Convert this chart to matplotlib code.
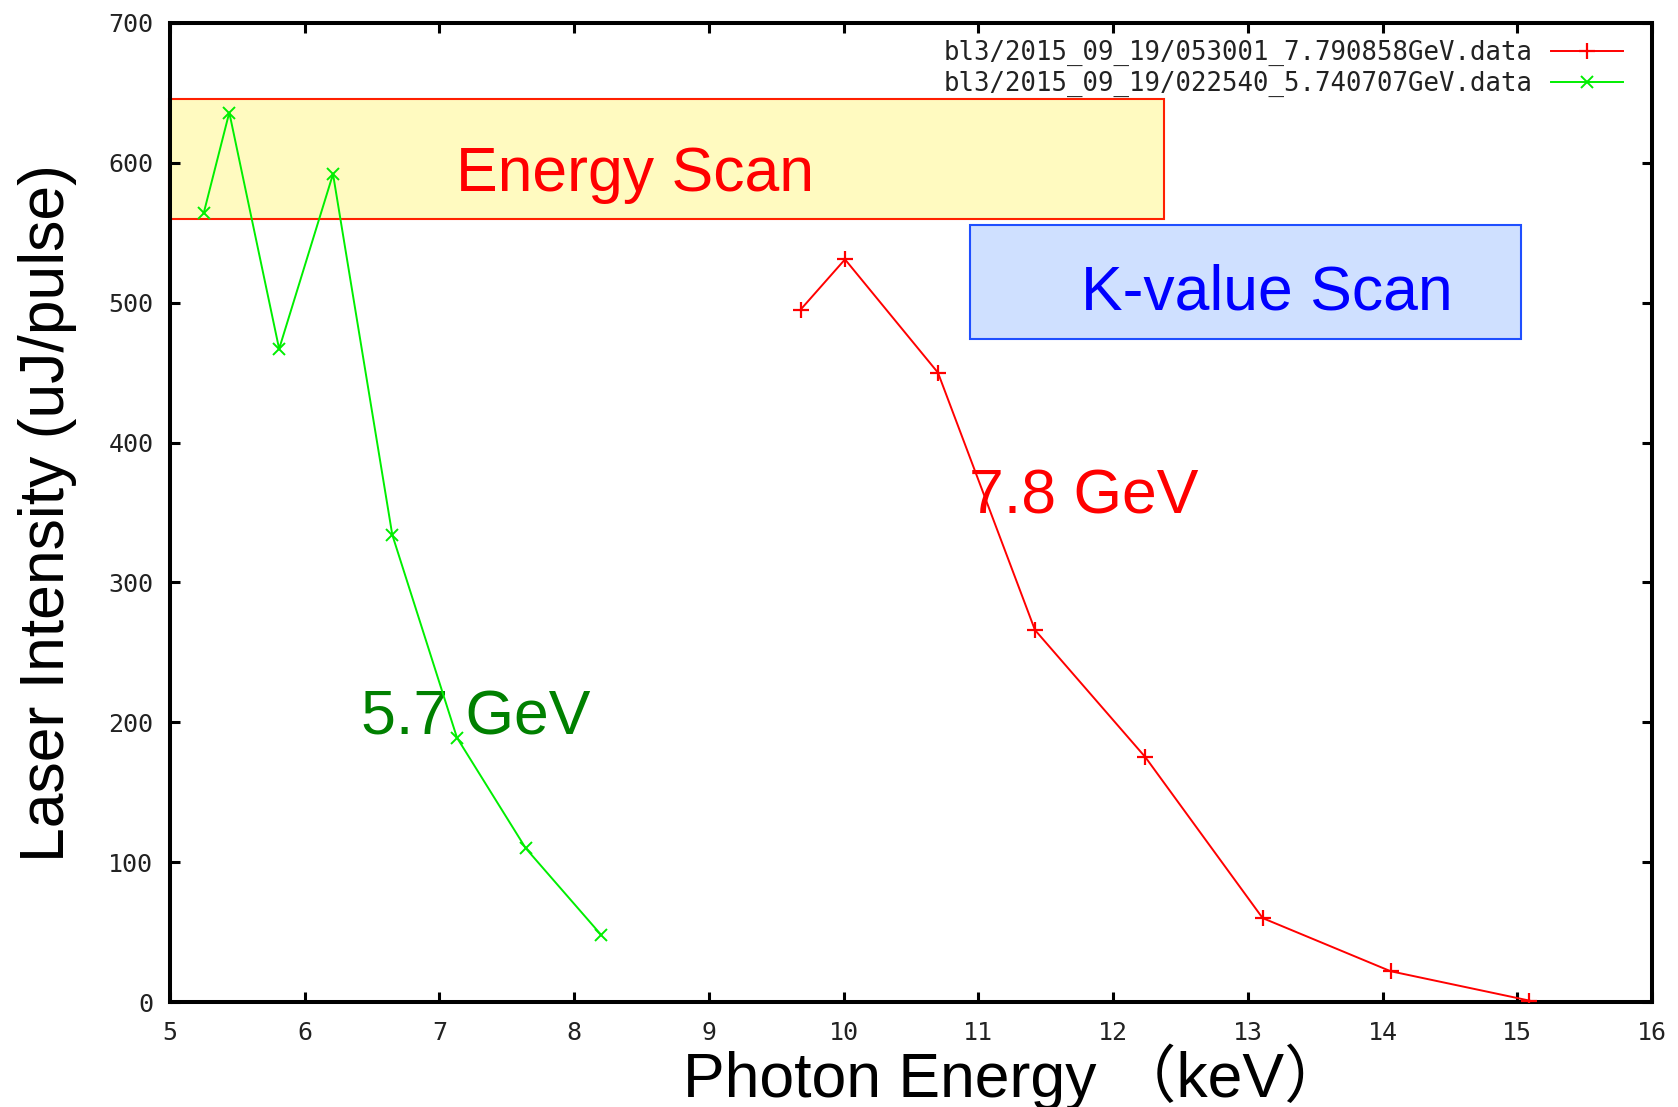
import matplotlib
matplotlib.use("Agg")
import matplotlib.pyplot as plt
from matplotlib.patches import Rectangle

# Laser intensity vs photon energy, two electron beam energies
red_label = "bl3/2015_09_19/053001_7.790858GeV.data"
red_energy = [9.68, 10.01, 10.70, 11.42, 12.24, 13.11, 14.06, 15.09]
red_power = [495, 531, 450, 266, 175, 60, 22, 1]

green_label = "bl3/2015_09_19/022540_5.740707GeV.data"
green_energy = [5.25, 5.44, 5.81, 6.21, 6.65, 7.13, 7.64, 8.20]
green_power = [564, 636, 467, 592, 334, 189, 110, 48]

x_ticks = list(range(5, 17))
y_ticks = list(range(0, 701, 100))

W, H = 1678, 1107
fig = plt.figure(figsize=(W / 100, H / 100), dpi=100)
ax = fig.add_axes([170 / W, 1 - 1002 / H, (1652 - 170) / W, (1002 - 23) / H])

ax.plot(red_energy, red_power, color="#ff0000", lw=1.4, marker="+",
        ms=11, mew=1.6, label=red_label, zorder=4)
ax.plot(green_energy, green_power, color="#00ee00", lw=1.4, marker="x",
        ms=9, mew=1.4, label=green_label, zorder=4)

ax.set_xlim(5, 16)
ax.set_ylim(0, 700)
ax.set_xticks(x_ticks)
ax.set_yticks(y_ticks)

tick_font = dict(family="DejaVu Sans Mono", size=18, color="#222222")
ax.set_xticklabels([str(t) for t in x_ticks], fontdict=tick_font)
ax.set_yticklabels([str(t) for t in y_ticks], fontdict=tick_font)
ax.tick_params(direction="in", length=7, width=2.2, top=True, right=True,
               color="black")
ax.tick_params(axis="x", pad=14)
ax.tick_params(axis="y", pad=12)
for s in ax.spines.values():
    s.set_linewidth(2.9)

# highlighted regions
ax.add_patch(Rectangle((4.99, 559.7), 7.39, 86.1, facecolor="#fffac0",
                       edgecolor="#ff2000", lw=1.5, zorder=1, clip_on=False))
ax.add_patch(Rectangle((10.94, 473.7), 4.09, 81.9, facecolor="#cfe0ff",
                       edgecolor="#1f4fff", lw=1.5, zorder=1, clip_on=False))

big = dict(family="Liberation Sans", size=45)
ax.text(8.45, 580, "Energy Scan", color="#ff0000", ha="center",
        va="baseline", zorder=2, **big)
ax.text(13.14, 495, "K-value Scan", color="#0000ff", ha="center",
        va="baseline", zorder=2, **big)
ax.text(11.78, 349, "7.8 GeV", color="#ff0000", ha="center",
        va="baseline", zorder=2, **big)
ax.text(7.27, 191, "5.7 GeV", color="#008000", ha="center",
        va="baseline", zorder=2, **big)

leg = ax.legend(loc="upper right", bbox_to_anchor=(1623 / W, 1 - 40 / H),
                bbox_transform=fig.transFigure, frameon=False,
                markerfirst=False, borderpad=0, borderaxespad=0,
                handlelength=2.8, handletextpad=0.7, labelspacing=0.2,
                prop=dict(family="DejaVu Sans Mono", size=18.5))
for t in leg.get_texts():
    t.set_color("#222222")

fig.text(683 / W, 1 - 1097 / H, "Photon Energy （keV）",
         family=["Liberation Sans", "Noto Sans CJK JP"], size=45,
         ha="left", va="baseline")
fig.text(48 / W, 1 - 513 / H, "Laser Intensity (uJ/pulse)",
         family="Liberation Sans", size=45, rotation=90,
         ha="center", va="center")

fig.savefig("out.png", dpi=100)
